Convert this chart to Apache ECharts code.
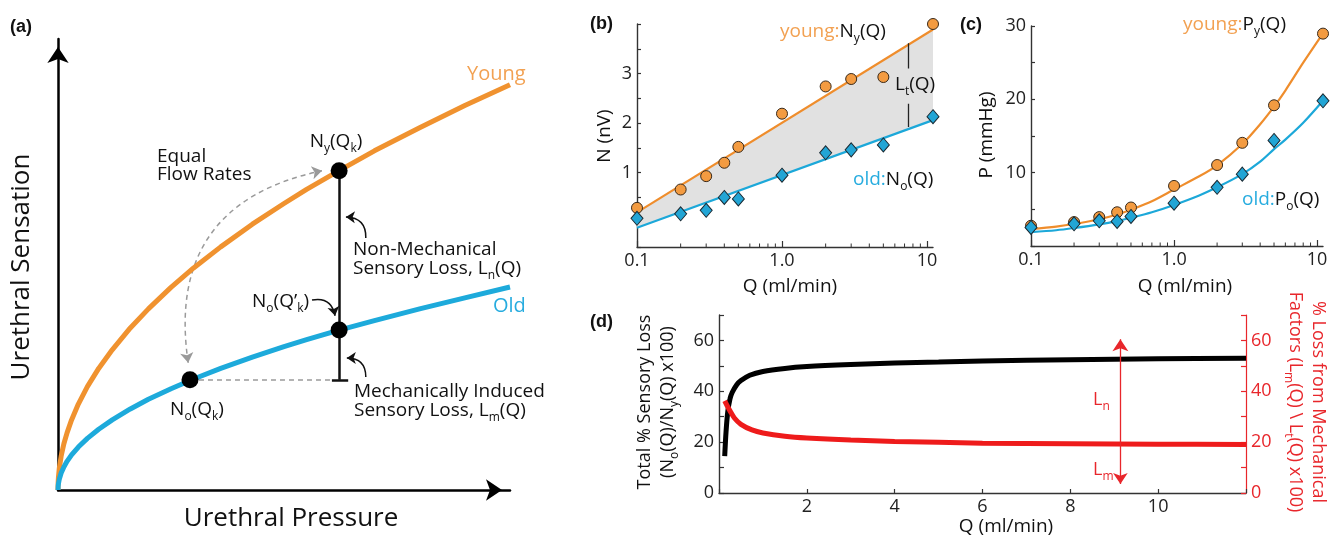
<!DOCTYPE html>
<html><head><meta charset="utf-8">
<script src="https://cdn.jsdelivr.net/npm/echarts@6/dist/echarts.min.js"></script>
<style>html,body{margin:0;padding:0;background:#fff}#c{width:1330px;height:538px}</style>
</head><body><div id="c"></div>
<script>
// ---------- Panel (a): schematic curves ----------
const aX     = [0, 0.0003, 0.001, 0.003, 0.007, 0.013, 0.02, 0.03, 0.045, 0.065, 0.09, 0.12, 0.16, 0.2, 0.25, 0.3, 0.36, 0.43, 0.5, 0.55, 0.62, 0.7, 0.8, 0.9, 1.0];
const aYoung = [0, 0.0173, 0.0316, 0.0548, 0.0837, 0.114, 0.141, 0.173, 0.212, 0.255, 0.3, 0.346, 0.4, 0.447, 0.5, 0.548, 0.6, 0.656, 0.707, 0.742, 0.787, 0.837, 0.894, 0.949, 1.0];
const aOld   = [0, 0.0087, 0.0158, 0.0274, 0.0418, 0.057, 0.0707, 0.0866, 0.106, 0.1275, 0.15, 0.173, 0.2, 0.224, 0.25, 0.274, 0.3, 0.328, 0.354, 0.371, 0.394, 0.418, 0.447, 0.474, 0.501];
const aNy      = [0.622, 0.788];
const aNoPrime = [0.622, 0.395];
const aNo      = [0.292, 0.272];

// ---------- Panel (b): N vs Q ----------
const qData  = [0.1, 0.2, 0.3, 0.4, 0.5, 1, 2, 3, 5, 11];
const nYoung = [0.29, 0.66, 0.93, 1.2, 1.52, 2.19, 2.74, 2.89, 2.93, 4.0];
const nOld   = [0.08, 0.17, 0.24, 0.5, 0.47, 0.95, 1.4, 1.46, 1.56, 2.13];
const nFitQ     = [0.1, 11];
const nFitYoung = [0.2, 3.89];
const nFitOld   = [-0.11, 2.06];
const ltQ = 7.4;
const ltUpper = [3.61, 3.10];
const ltLower = [2.39, 1.92];

// ---------- Panel (c): P vs Q ----------
const pYoung = [2.76, 3.26, 3.94, 4.6, 5.25, 8.19, 11.04, 14.07, 19.19, 28.96];
const pOld   = [2.53, 3.03, 3.44, 3.35, 4.03, 5.84, 8.0, 9.8, 14.4, 19.8];
const pFitQ     = [0.1, 0.15, 0.2, 0.3, 0.4, 0.5, 0.7, 1, 1.5, 2, 3, 4, 5, 6, 8, 11];
const pFitYoung = [2.3, 2.65, 3.0, 3.65, 4.3, 4.95, 6.1, 7.7, 9.5, 11.0, 13.9, 16.6, 19.0, 21.2, 25.0, 29.0];
const pFitOld   = [1.9, 2.15, 2.45, 2.95, 3.4, 3.85, 4.6, 5.6, 6.9, 8.0, 9.8, 11.5, 13.2, 14.5, 16.8, 19.8];

// log-axis tick labels and minor ticks
const logTicks = [0.1, 1, 10];
const logTickLabels = ['0.1', '1.0', '10'];
const minorQ = [0.2, 0.3, 0.4, 0.5, 0.6, 0.7, 0.8, 0.9, 2, 3, 4, 5, 6, 7, 8, 9];
const nLabels = [1, 2, 3];
const pLabels = [10, 20, 30];

// ---------- Panel (d) ----------
const dQBlack = [0.13, 0.16, 0.2, 0.25, 0.3, 0.4, 0.5, 0.7, 1.0, 1.5, 2, 3, 4, 5, 6, 8, 10, 12];
const dBlack  = [14.5, 24, 32, 37, 39.5, 42.5, 44.2, 46.3, 47.8, 49, 49.7, 50.5, 51.1, 51.5, 51.9, 52.4, 52.8, 53.0];
const dQRed   = [0.13, 0.18, 0.25, 0.35, 0.5, 0.75, 1.0, 1.5, 2, 3, 4, 6, 8, 10, 12];
const dRed    = [36.2, 34.5, 32.3, 29.5, 27, 24.8, 23.6, 22.3, 21.6, 20.8, 20.3, 19.6, 19.4, 19.2, 19.1];
const dArrowQ = 9.14;
const dArrowY = [60.5, 3.5];
const dXLabels = [2, 4, 6, 8, 10];
const dYLabels = [0, 20, 40, 60];

// ---------- styling ----------
const FF = '"Open Sans", "DejaVu Sans", sans-serif';
const ORANGE = '#EF8D2C', BLUE = '#1CA8D9', ORANGE_T = '#F2A152', BLUE_T = '#27ACDF';
const RED = '#EE1B1B', RED_T = '#E8262B', AX = '#333';

const pairs = (xs, ys) => xs.map((x, i) => [x, ys[i]]);
const near = (a, b) => Math.abs(a - b) < 1e-6 * Math.max(1, Math.abs(b));
const logFmt = v => { const i = logTicks.findIndex(t => near(v, t)); return i >= 0 ? logTickLabels[i] : ''; };
const listFmt = arr => v => arr.some(t => near(v, t)) ? String(v) : '';

function sub(color, size) {
  return { fontSize: size || 12, fontFamily: FF, fill: color, verticalAlign: 'middle', padding: [14, 0, 0, 0], lineHeight: 19 };
}
function txt(x, y, text, o) {
  o = o || {};
  const color = o.color || '#111';
  return {
    type: 'text', x: x, y: y, rotation: o.rotation || 0, z: 100,
    style: {
      text: text, fontSize: o.size || 19, fontFamily: o.family || FF, fontWeight: o.weight || 'normal',
      fill: color, align: o.align || 'left', verticalAlign: o.va || 'middle', lineHeight: o.lh || 19,
      rich: Object.assign({
        s: sub(color, o.subSize),
        k: { fontSize: o.size || 19, fontFamily: FF, fill: '#111', verticalAlign: 'middle', lineHeight: o.lh || 19 },
        ks: sub('#111', o.subSize),
        o: { fontSize: o.size || 19, fontFamily: FF, fill: ORANGE_T, verticalAlign: 'middle', lineHeight: o.lh || 19 },
        b: { fontSize: o.size || 19, fontFamily: FF, fill: BLUE_T, verticalAlign: 'middle', lineHeight: o.lh || 19 }
      }, o.rich || {})
    }
  };
}

function minorTickSeries(xi, yi, ymin) {
  return {
    type: 'custom', xAxisIndex: xi, yAxisIndex: yi, silent: true, z: 5,
    data: minorQ.map(q => [q, ymin]), encode: { x: 0, y: 1 },
    renderItem: (params, api) => {
      const p = api.coord([api.value(0), api.value(1)]);
      return { type: 'line', shape: { x1: p[0], y1: p[1], x2: p[0], y2: p[1] - 3.5 }, style: { stroke: AX, lineWidth: 1 } };
    }
  };
}

const plainAxisLine = { show: true, onZero: false, lineStyle: { color: AX, width: 1.4 } };
const tickIn = (len, color) => ({ show: true, inside: true, length: len, lineStyle: { color: color || AX, width: 1.2 } });
const lbl = (fmt, extra) => Object.assign({ formatter: fmt, fontSize: 18, fontFamily: FF, color: '#222', margin: 5 }, extra || {});
const markerOrange = { color: '#F39B41', borderColor: '#3a2a1a', borderWidth: 1, opacity: 1 };
const markerBlue = { color: '#22A5D5', borderColor: '#1a2a33', borderWidth: 1, opacity: 1 };

const option = {
  animation: false,
  backgroundColor: '#fff',
  grid: [
    { left: 58, right: 820, top: 39, bottom: 48, outerBoundsMode: 'none' },
    { left: 637, right: 397, top: 24, bottom: 291, outerBoundsMode: 'none' },
    { left: 1031, right: 7, top: 26, bottom: 292, outerBoundsMode: 'none' },
    { left: 719, right: 84, top: 315, bottom: 45, outerBoundsMode: 'none' }
  ],
  xAxis: [
    { gridIndex: 0, type: 'value', min: 0, max: 1,
      axisLine: { show: true, onZero: false, symbol: ['none', 'arrow'], symbolSize: [16, 16], symbolOffset: [0, -8], lineStyle: { color: '#000', width: 2.5 } },
      axisTick: { show: false }, axisLabel: { show: false }, splitLine: { show: false } },
    { gridIndex: 1, type: 'log', logBase: 10, min: 0.1, max: 11,
      axisLine: plainAxisLine, axisTick: tickIn(6), axisLabel: lbl(logFmt, { showMaxLabel: false }), splitLine: { show: false }, minorTick: { show: false } },
    { gridIndex: 2, type: 'log', logBase: 10, min: 0.1, max: 11,
      axisLine: plainAxisLine, axisTick: tickIn(6), axisLabel: lbl(logFmt, { showMaxLabel: false }), splitLine: { show: false }, minorTick: { show: false } },
    { gridIndex: 3, type: 'value', min: 0, max: 12, interval: 2,
      axisLine: plainAxisLine, axisTick: tickIn(4), axisLabel: lbl(listFmt(dXLabels)), splitLine: { show: false } }
  ],
  yAxis: [
    { gridIndex: 0, type: 'value', min: 0, max: 1.113,
      axisLine: { show: true, onZero: false, symbol: ['none', 'arrow'], symbolSize: [16, 16], symbolOffset: [0, -8], lineStyle: { color: '#000', width: 2.5 } },
      axisTick: { show: false }, axisLabel: { show: false }, splitLine: { show: false } },
    { gridIndex: 1, type: 'value', min: -0.5, max: 4, interval: 0.5,
      axisLine: plainAxisLine, axisTick: tickIn(4), axisLabel: lbl(listFmt(nLabels)), splitLine: { show: false } },
    { gridIndex: 2, type: 'value', min: 0, max: 30, interval: 5,
      axisLine: plainAxisLine, axisTick: tickIn(4), axisLabel: lbl(listFmt(pLabels)), splitLine: { show: false } },
    { gridIndex: 3, type: 'value', min: 0, max: 70, interval: 10,
      axisLine: plainAxisLine, axisTick: tickIn(5), axisLabel: lbl(listFmt(dYLabels)), splitLine: { show: false } },
    { gridIndex: 3, type: 'value', position: 'right', min: 0, max: 70, interval: 10,
      axisLine: { show: true, onZero: false, lineStyle: { color: RED_T, width: 1.2 } }, axisTick: tickIn(5, RED_T),
      axisLabel: lbl(listFmt(dYLabels), { color: RED_T }), splitLine: { show: false } }
  ],
  series: [
    // ----- (a) -----
    { type: 'line', xAxisIndex: 0, yAxisIndex: 0, data: pairs(aX, aYoung), smooth: false, showSymbol: false, clip: false,
      lineStyle: { color: '#F0922F', width: 5, join: 'round' }, z: 3 },
    { type: 'line', xAxisIndex: 0, yAxisIndex: 0, data: pairs(aX, aOld), smooth: false, showSymbol: false, clip: false,
      lineStyle: { color: '#1DAADB', width: 5, join: 'round' }, z: 3 },
    { type: 'lines', coordinateSystem: 'cartesian2d', xAxisIndex: 0, yAxisIndex: 0, silent: true, z: 4,
      lineStyle: { color: '#111', width: 2.5, opacity: 1 },
      data: [
        { coords: [aNy, [aNy[0], aNo[1]]] },
        { coords: [[0.606, aNo[1]], [0.642, aNo[1]]] }
      ] },
    { type: 'lines', coordinateSystem: 'cartesian2d', xAxisIndex: 0, yAxisIndex: 0, silent: true, z: 2,
      lineStyle: { color: '#9a9a9a', width: 1.5, type: [5, 4], opacity: 1 },
      data: [ { coords: [aNo, [0.606, aNo[1]]] } ] },
    { type: 'lines', coordinateSystem: 'cartesian2d', xAxisIndex: 0, yAxisIndex: 0, silent: true, z: 2,
      symbol: ['arrow', 'arrow'], symbolSize: 10,
      lineStyle: { color: '#9a9a9a', width: 1.5, type: [5, 4], curveness: 0.47, opacity: 1 },
      data: [ { coords: [[0.288, 0.314], [0.584, 0.788]] } ] },
    { type: 'lines', coordinateSystem: 'cartesian2d', xAxisIndex: 0, yAxisIndex: 0, silent: true, z: 4,
      symbol: ['none', 'arrow'], symbolSize: 9,
      lineStyle: { color: '#111', width: 1.5, opacity: 1 },
      data: [
        { coords: [[0.681, 0.622], [0.637, 0.674]], lineStyle: { curveness: -0.5 } },
        { coords: [[0.681, 0.279], [0.639, 0.326]], lineStyle: { curveness: -0.5 } },
        { coords: [[0.562, 0.469], [0.613, 0.430]], lineStyle: { curveness: 0.5 } }
      ] },
    { type: 'scatter', xAxisIndex: 0, yAxisIndex: 0, symbol: 'circle', symbolSize: 17, silent: true, z: 6,
      itemStyle: { color: '#000', opacity: 1 }, data: [aNy, aNoPrime, aNo] },

    // ----- (b) -----
    { type: 'custom', xAxisIndex: 1, yAxisIndex: 1, silent: true, z: 1,
      data: [[nFitQ[0], nFitOld[0]]], encode: { x: 0, y: 1 },
      renderItem: (params, api) => {
        const pts = [];
        nFitQ.forEach((q, i) => pts.push(api.coord([q, nFitYoung[i]])));
        for (let i = nFitQ.length - 1; i >= 0; i--) pts.push(api.coord([nFitQ[i], nFitOld[i]]));
        return { type: 'polygon', shape: { points: pts }, style: { fill: '#E1E1E1' } };
      } },
    { type: 'line', xAxisIndex: 1, yAxisIndex: 1, data: pairs(nFitQ, nFitYoung), showSymbol: false, lineStyle: { color: ORANGE, width: 2.2 }, z: 3 },
    { type: 'line', xAxisIndex: 1, yAxisIndex: 1, data: pairs(nFitQ, nFitOld), showSymbol: false, lineStyle: { color: BLUE, width: 2.2 }, z: 3 },
    { type: 'lines', coordinateSystem: 'cartesian2d', xAxisIndex: 1, yAxisIndex: 1, silent: true, z: 4,
      lineStyle: { color: '#222', width: 1.3, opacity: 1 },
      data: [ { coords: [[ltQ, ltUpper[0]], [ltQ, ltUpper[1]]] }, { coords: [[ltQ, ltLower[0]], [ltQ, ltLower[1]]] } ] },
    { type: 'scatter', xAxisIndex: 1, yAxisIndex: 1, symbol: 'circle', symbolSize: 11, z: 5,
      itemStyle: markerOrange, data: pairs(qData, nYoung) },
    { type: 'scatter', xAxisIndex: 1, yAxisIndex: 1, symbol: 'diamond', symbolSize: [12, 14], z: 5,
      itemStyle: markerBlue, data: pairs(qData, nOld) },
    minorTickSeries(1, 1, -0.5),

    // ----- (c) -----
    { type: 'line', xAxisIndex: 2, yAxisIndex: 2, data: pairs(pFitQ, pFitYoung), smooth: 0.3, showSymbol: false, lineStyle: { color: ORANGE, width: 2.2 }, z: 3 },
    { type: 'line', xAxisIndex: 2, yAxisIndex: 2, data: pairs(pFitQ, pFitOld), smooth: 0.3, showSymbol: false, lineStyle: { color: BLUE, width: 2.2 }, z: 3 },
    { type: 'scatter', xAxisIndex: 2, yAxisIndex: 2, symbol: 'circle', symbolSize: 11, z: 5,
      itemStyle: markerOrange, data: pairs(qData, pYoung) },
    { type: 'scatter', xAxisIndex: 2, yAxisIndex: 2, symbol: 'diamond', symbolSize: [12, 14], z: 6,
      itemStyle: markerBlue, data: pairs(qData, pOld) },
    minorTickSeries(2, 2, 0),

    // ----- (d) -----
    { type: 'line', xAxisIndex: 3, yAxisIndex: 3, data: pairs(dQBlack, dBlack), smooth: 0.3, showSymbol: false, clip: false,
      lineStyle: { color: '#000', width: 5 }, z: 3 },
    { type: 'line', xAxisIndex: 3, yAxisIndex: 4, data: pairs(dQRed, dRed), smooth: 0.3, showSymbol: false, clip: false,
      lineStyle: { color: RED, width: 5 }, z: 4 },
    { type: 'lines', coordinateSystem: 'cartesian2d', xAxisIndex: 3, yAxisIndex: 3, silent: true, z: 5,
      symbol: ['arrow', 'arrow'], symbolSize: [12, 11],
      lineStyle: { color: RED_T, width: 1.3, opacity: 1 },
      data: [ { coords: [[dArrowQ, dArrowY[0]], [dArrowQ, dArrowY[1]]] } ] }
  ],
  graphic: [
    // panel letters
    txt(10, 27, '(a)', { size: 18, weight: 'bold', family: '"Liberation Sans", Arial, sans-serif' }),
    txt(590, 24, '(b)', { size: 18, weight: 'bold', family: '"Liberation Sans", Arial, sans-serif' }),
    txt(960, 25, '(c)', { size: 18, weight: 'bold', family: '"Liberation Sans", Arial, sans-serif' }),
    txt(590, 322, '(d)', { size: 18, weight: 'bold', family: '"Liberation Sans", Arial, sans-serif' }),
    // (a) texts
    txt(22, 267, 'Urethral Sensation', { size: 26, align: 'center', rotation: Math.PI / 2, lh: 30 }),
    txt(291, 519, 'Urethral Pressure', { size: 26, align: 'center', lh: 30 }),
    txt(467, 74, 'Young', { size: 20, color: ORANGE_T }),
    txt(493, 306, 'Old', { size: 20, color: BLUE_T }),
    txt(157, 166, 'Equal\nFlow Rates', { size: 19, lh: 18 }),
    txt(336, 142, 'N{s|y}(Q{s|k})', { size: 19, align: 'center' }),
    txt(353, 259, 'Non-Mechanical\nSensory Loss, L{s|n}(Q)', { size: 19 }),
    txt(252, 302, 'N{s|o}(Q’{s|k})', { size: 19 }),
    txt(354, 401, 'Mechanically Induced\nSensory Loss, L{s|m}(Q)', { size: 19 }),
    txt(197, 410, 'N{s|o}(Q{s|k})', { size: 19, align: 'center' }),
    // (b) texts
    txt(605, 136, 'N (nV)', { size: 19, align: 'center', rotation: Math.PI / 2 }),
    txt(790, 287, 'Q (ml/min)', { size: 19, align: 'center' }),
    txt(780, 32, '{o|young:}{k|N}{ks|y}{k|(Q)}', { size: 19 }),
    txt(853, 180, '{b|old:}{k|N}{ks|o}{k|(Q)}', { size: 19 }),
    txt(895, 85, 'L{s|t}(Q)', { size: 19 }),
    // (c) texts
    txt(987, 135, 'P (mmHg)', { size: 19, align: 'center', rotation: Math.PI / 2 }),
    txt(1185, 287, 'Q (ml/min)', { size: 19, align: 'center' }),
    txt(1183, 25, '{o|young:}{k|P}{ks|y}{k|(Q)}', { size: 19 }),
    txt(1242, 200, '{b|old:}{k|P}{ks|o}{k|(Q)}', { size: 19 }),
    // (d) texts
    txt(1006, 527, 'Q (ml/min)', { size: 19, align: 'center' }),
    txt(656, 402, 'Total % Sensory Loss\n(N{s|o}(Q)/N{s|y}(Q) x100)', { size: 18, align: 'center', rotation: Math.PI / 2, lh: 23 }),
    txt(1307, 402, '% Loss from Mechanical\nFactors (L{s|m}(Q) \\ L{s|t}(Q) x100)', { size: 18, align: 'center', rotation: -Math.PI / 2, lh: 23, color: RED_T }),
    txt(1093, 400, 'L{s|n}', { size: 18, color: RED_T }),
    txt(1093, 470, 'L{s|m}', { size: 18, color: RED_T })
  ]
};

const chart = echarts.init(document.getElementById('c'), null, { renderer: 'canvas' });
chart.setOption(option);
</script>
</body></html>
